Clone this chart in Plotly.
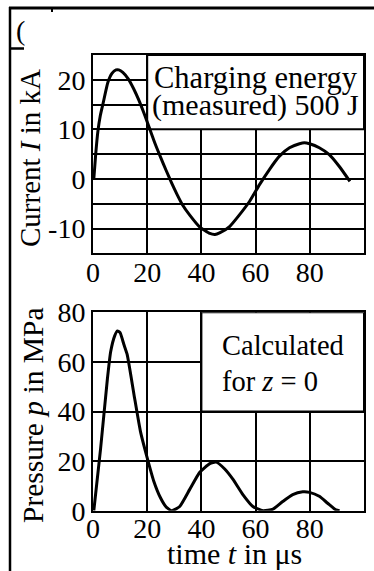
import plotly.graph_objects as go

# ---- data -------------------------------------------------------------
# discharge current (measured), time in microseconds, current in kA
t_current = [0.3, 1.0, 1.8, 2.7, 3.7, 5.5, 7.0, 8.5, 9.5, 11.0, 13.0, 15.0,
             17.0, 19.0, 21.0, 23.0, 25.0, 27.0, 29.0, 31.0, 33.0, 35.7,
             39.4, 43.1, 45.0, 46.7, 50.4, 54.1, 57.8, 61.5, 65.1, 68.8,
             72.5, 76.2, 78.0, 79.9, 83.5, 87.2, 90.9, 94.8]
current_kA = [0.0, 5.0, 9.6, 12.8, 15.2, 19.5, 21.3, 22.0, 22.0, 21.5, 20.2,
              18.2, 15.8, 13.0, 10.0, 7.0, 4.3, 1.7, -0.8, -3.1, -5.2, -7.3,
              -9.7, -11.0, -11.2, -10.9, -9.6, -7.2, -4.5, -1.1, 1.9, 4.6,
              6.3, 7.1, 7.3, 7.1, 6.3, 4.9, 2.5, -0.5]

# calculated pressure at z = 0, time in microseconds, pressure in MPa
t_pressure = [0.3, 2.8, 5.3, 6.5, 8.0, 9.0, 10.0, 11.4, 12.6, 15.1, 17.5,
              20.0, 22.4, 24.9, 27.0, 29.0, 32.0, 35.7, 39.4, 43.1, 45.5,
              48.6, 51.6, 55.3, 59.0, 62.7, 66.4, 70.0, 73.7, 77.4, 79.9,
              83.5, 86.6, 89.7, 91.0]
pressure_MPa = [0.0, 25.0, 53.0, 64.0, 70.5, 72.5, 71.8, 67.0, 63.0, 47.0,
                32.0, 21.3, 12.0, 5.2, 1.5, 0.0, 1.7, 8.6, 15.5, 19.0, 19.6,
                16.8, 12.7, 6.5, 1.7, 0.0, 0.6, 3.7, 6.5, 7.6, 7.4, 5.8,
                3.0, 0.3, 0.0]

time_ticks = [0, 20, 40, 60, 80]
current_ticks = [-10, 0, 10, 20]
current_labels = ["-10", "0", "10", "20"]
pressure_ticks = [0, 20, 40, 60, 80]

# ---- layout helpers ---------------------------------------------------
W, H = 374, 571
FONT = "Liberation Serif"


def px(x):
    return x / W


def py(y):
    return 1 - y / H


line_style = dict(color="black", width=3, shape="spline", smoothing=0.5)

fig = go.Figure()
fig.add_trace(go.Scatter(x=t_current, y=current_kA, mode="lines",
                         line=line_style, xaxis="x", yaxis="y",
                         showlegend=False, hoverinfo="skip"))
fig.add_trace(go.Scatter(x=t_pressure, y=pressure_MPa, mode="lines",
                         line=line_style, xaxis="x2", yaxis="y2",
                         showlegend=False, hoverinfo="skip"))

axis_common = dict(showline=True, linecolor="black", linewidth=2, mirror=True,
                   showgrid=True, gridcolor="black", gridwidth=2,
                   zeroline=False, ticks="", ticklen=0, automargin=False,
                   tickfont=dict(family=FONT, size=28, color="black"))

fig.update_layout(
    width=W, height=H,
    margin=dict(l=0, r=0, t=0, b=0, pad=0),
    paper_bgcolor="white", plot_bgcolor="white",
    font=dict(family=FONT, color="black"),
    xaxis=dict(domain=[px(93), px(364)], range=[0, 100], anchor="y",
               tickvals=time_ticks, ticklabelstandoff=-7, **axis_common),
    yaxis=dict(domain=[py(253.3), py(55)], range=[-15, 25], anchor="x",
               tickvals=current_ticks, ticktext=current_labels,
               minor=dict(dtick=5, showgrid=True, gridcolor="black",
                          gridwidth=2),
               **axis_common),
    xaxis2=dict(domain=[px(93), px(364)], range=[0, 100], anchor="y2",
                tickvals=time_ticks, ticklabelstandoff=-8, **axis_common),
    yaxis2=dict(domain=[py(510.7), py(312.3)], range=[0, 80], anchor="x2",
                tickvals=pressure_ticks, **axis_common),
)

shapes = [
    # white label boxes hiding the grid behind the captions
    dict(type="rect", xref="x", yref="y", x0=20, x1=100, y0=10, y1=25,
         fillcolor="white", line=dict(color="black", width=2),
         layer="between"),
    dict(type="rect", xref="x2", yref="y2", x0=40, x1=100, y0=40, y1=80,
         fillcolor="white", line=dict(color="black", width=2),
         layer="between"),
    # surrounding table frame
    dict(type="line", xref="paper", yref="paper", x0=px(10), x1=px(10),
         y0=py(7), y1=0, line=dict(color="black", width=2.5)),
    dict(type="line", xref="paper", yref="paper", x0=px(9), x1=1,
         y0=py(8), y1=py(8), line=dict(color="black", width=3)),
    dict(type="line", xref="paper", yref="paper", x0=px(9), x1=px(24),
         y0=py(48.5), y1=py(48.5), line=dict(color="black", width=2.5)),
    dict(type="line", xref="paper", yref="paper", x0=px(52), x1=px(52),
         y0=py(8), y1=py(12), line=dict(color="black", width=2)),
]
fig.update_layout(shapes=shapes)

annotations = [
    dict(text="Charging energy", x=px(256), y=py(78), size=30.5),
    dict(text="(measured) 500 J", x=px(256), y=py(105), size=30),
    dict(text="Calculated", x=px(220), y=py(345), size=28.5, anchor="left"),
    dict(text="for <i>z</i> = 0", x=px(220), y=py(381), size=28.5,
         anchor="left"),
    dict(text="Current <i>I</i> in kA", x=px(30), y=py(158), size=29,
         angle=-90),
    dict(text="Pressure <i>p</i> in MPa", x=px(33), y=py(415), size=29.5,
         angle=-90),
    dict(text="time <i>t</i> in μs", x=px(235), y=py(553), size=30),
    dict(text="(", x=px(20), y=py(30), size=28),
]
for a in annotations:
    fig.add_annotation(text=a["text"], x=a["x"], y=a["y"], xref="paper",
                       yref="paper", showarrow=False,
                       xanchor=a.get("anchor", "center"), yanchor="middle",
                       textangle=a.get("angle", 0),
                       font=dict(family=FONT, size=a["size"], color="black"))

fig.write_html("out.html")
